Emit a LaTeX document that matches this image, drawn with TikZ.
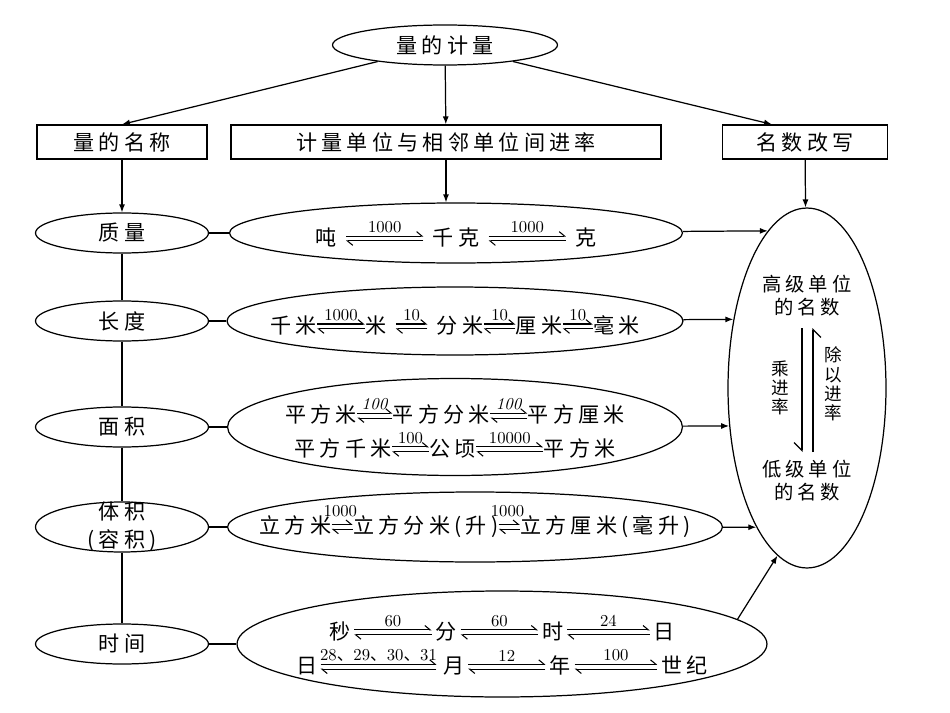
\documentclass[tikz,border=0pt]{standalone}
\usepackage{fontspec}
\newfontfamily\cjk[LetterSpace=20]{Noto Sans CJK SC}
\usetikzlibrary{shapes.geometric,arrows.meta}

\newcommand{\numfont}{\rmfamily\fontsize{9.5}{10}\selectfont}
% pair of harpoons with the rate above
\newcommand{\conv}[2][30]{\tikz[baseline=-4pt, x=1pt, y=1pt, line width=0.6pt]{
		\draw[-{Straight Barb[harpoon,length=3pt,width=5pt]}] (0,1.4) -- (#1,1.4);
		\draw[-{Straight Barb[harpoon,length=3pt,width=5pt]}] (#1,-1.4) -- (0,-1.4);
		\node[above, inner sep=1.5pt, font=\numfont] at (#1/2,1.4) {#2};}}
\newcommand{\convshort}[1]{\tikz[baseline=-4pt, x=1pt, y=1pt, line width=0.6pt]{
		\draw[-{Straight Barb[harpoon,length=3pt,width=5pt]}] (0,1.4) -- (12,1.4);
		\draw[-{Straight Barb[harpoon,length=3pt,width=5pt]}] (12,-1.4) -- (0,-1.4);
		\node[above, overlay, inner sep=4pt, font=\numfont] at (5,1.4) {#1};}}

\begin{document}
\begin{tikzpicture}[x=0.02cm, y=-0.02cm, line width=0.7pt,
	font=\fontsize{12}{14}\cjk,
	term/.style={draw, ellipse, inner sep=0pt, minimum width=3.46cm, minimum height=0.8cm},
	head/.style={draw, rectangle, inner sep=0pt, minimum height=0.68cm},
	rel/.style={draw, ellipse, inner sep=0pt},
	link/.style={-{Latex[length=1.6mm,width=1.2mm]}},
	harp/.style={-{Straight Barb[harpoon,swap,length=1.6mm]}}]
		\useasboundingbox (0,0) rectangle (950,713);
		
		% top
		\node[draw, ellipse, inner sep=0pt, minimum width=4.5cm, minimum height=0.8cm] (meas) at (445,45) {量的计量};
		\node[head, minimum width=3.4cm] (names) at (122,142) {量的名称};
		\node[head, minimum width=8.6cm] (units) at (446,142) {计量单位与相邻单位间进率};
		\node[head, minimum width=3.3cm] (rewrite) at (805,142) {名数改写};
		
		% left column
		\node[term] (mass) at (122,233) {质量};
		\node[term] (length) at (122,321) {长度};
		\node[term] (area) at (122,427) {面积};
		\node[term, minimum height=1cm, label={[align=center, font=\fontsize{12}{16}\cjk]center:体积\\(容积)}] (volume) at (122,527) {};
		\node[term] (time) at (122,644) {时间};
		
		% rows
		\node[rel, minimum width=9.06cm, minimum height=1.2cm] (rmass) at (456,233) {};
		\node[rel, minimum width=9.12cm, minimum height=1.36cm] (rlength) at (455,321) {};
		\node[rel, minimum width=9.1cm, minimum height=1.94cm] (rarea) at (455,427) {};
		\node[rel, minimum width=9.9cm, minimum height=1.4cm] (rvolume) at (475,527) {};
		\node[rel, minimum width=10.6cm, minimum height=2.12cm] (rtime) at (502,644) {};
		
		\node (tmass) at (rmass) {吨 \conv[44]{1000} 千克 \conv[44]{1000} 克};
		\node (tlength) at (rlength) {千米\conv[27]{1000}米 \conv[18]{10} 分米\conv[18]{10}厘米\conv[17]{10}毫米};
		\node[align=center] (tarea) at (rarea) {平方米\conv[20]{\textit{100}}平方分米\conv[21]{\textit{100}}平方厘米\\[2pt]
			平方千米\conv[21]{100}公顷\conv[38]{10000}平方米};
		\node (tvolume) at (rvolume) {立方米\convshort{1000}立方分米(升)\convshort{1000}立方厘米(毫升)};
		\node[align=center] (ttime) at (rtime) {秒\,\conv[44]{60}\,分\,\conv[44]{60}\,时\,\conv[47]{24}\,日\\[2pt]
			日\conv[66]{28{\cjk 、}29{\cjk 、}30{\cjk 、}31}\,月\,\conv[44]{12}\,年\,\conv[47]{100}\,世纪};
		
		% right
		\node[draw, ellipse, inner sep=0pt, minimum width=3.16cm, minimum height=7.2cm] (big) at (807,388) {};
		\node[align=center, font=\fontsize{11}{13}\cjk] (high) at (807,296) {高级单位\\的名数};
		\node[align=center, font=\fontsize{11}{13}\cjk] (low) at (807,481) {低级单位\\的名数};
		\node[align=center, font=\fontsize{10}{11}\cjk] (mul) at (780,388) {乘\\进\\率};
		\node[align=center, font=\fontsize{10}{11}\cjk] (div) at (833,384) {除\\以\\进\\率};
		\coordinate (hiL) at (802,328);
		\coordinate (loL) at (802,452);
		\coordinate (hiR) at (813,328);
		\coordinate (loR) at (813,452);
		\draw[harp] (hiL) -- (loL);
		\draw[harp] (loR) -- (hiR);
		
		% connectors
		\draw[link] (meas) -- (names.north);
		\draw[link] (meas) -- (units);
		\draw[link] (meas) -- ([xshift=-0.66cm]rewrite.north);
		\draw[link] (names) -- (mass);
		\draw[link] (units) -- (units |- rmass.north);
		\draw[link] (rewrite) -- (big);
		\foreach \a/\b in {mass/length, length/area, area/volume, volume/time}
			\draw (\a) -- (\b);
		\foreach \a in {mass, length, area, volume, time}
			\draw (\a) -- (r\a);
		\draw[link] (rmass) -- (big.104.5);
		\draw[link] (rlength) -- (big.137.6);
		\draw[link] (rarea) -- (big.206.8);
		\draw[link] (rvolume) -- (big.250.1);
		\draw[link] (rtime.6.5) -- (big.260);
\end{tikzpicture}
\end{document}
